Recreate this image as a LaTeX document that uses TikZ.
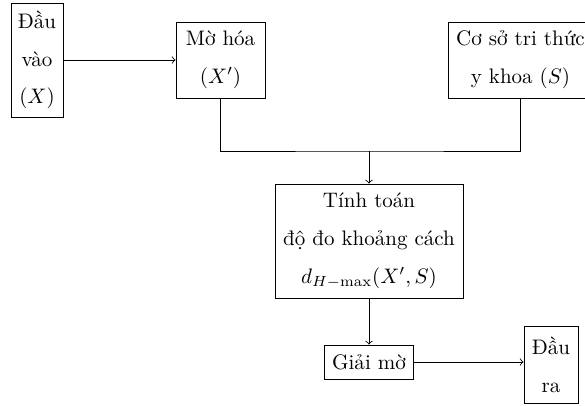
\documentclass[tikz,border=0pt]{standalone}
\usepackage{fontspec}
\usetikzlibrary{calc}
\begin{document}
\begin{tikzpicture}[x=0.476pt,y=-0.476pt,
  blk/.style={draw,align=center,inner sep=0pt},
  >=to]
\useasboundingbox (0,0) rectangle (585,405);
% blocks
\node[blk,minimum width=0.476pt*52,minimum height=0.476pt*114] (in) at (37,60) {Đầu\\[6pt]vào\\[6pt]$(X)$};
\node[blk,minimum width=0.476pt*89,minimum height=0.476pt*76] (fuzz) at (220.5,60) {Mờ hóa\\[6pt]$(X')$};
\node[blk,minimum width=0.476pt*145,minimum height=0.476pt*76] (kb) at (520.5,60) {Cơ sở tri thức\\[6pt]y khoa $(S)$};
\node[blk,minimum width=0.476pt*188,minimum height=0.476pt*114] (calc) at (369,241) {Tính toán\\[6pt]độ đo khoảng cách\\[6pt]$d_{H-\max}(X',S)$};
\node[blk,minimum width=0.476pt*89,minimum height=0.476pt*34] (defuzz) at (369,362) {Giải mờ};
\node[blk,minimum width=0.476pt*54,minimum height=0.476pt*77] (out) at (551,364.5) {Đầu\\[6pt]ra};
\coordinate (j) at (369,151);
% connectors
\draw[->] (in) -- (fuzz);
\draw (fuzz.south) |- (j) -| (kb.south);
\draw[->] (j) -- (calc.north);
\draw[->] (calc.south) -- (defuzz.north);
\draw[->] (defuzz.east) -- (defuzz.east -| out.west);
\end{tikzpicture}
\end{document}
